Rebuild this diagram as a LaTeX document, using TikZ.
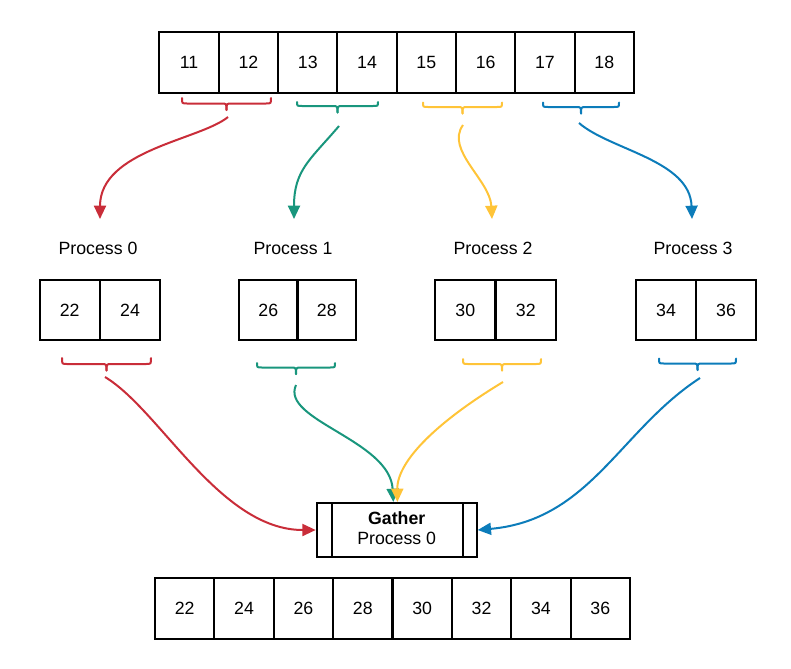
\documentclass[tikz,border=0pt]{standalone}
\usepackage{fontspec}
\setmainfont{Liberation Sans}
\usetikzlibrary{arrows.meta}
\definecolor{cred}{HTML}{C92D39}
\definecolor{cgreen}{HTML}{19967D}
\definecolor{cyellow}{HTML}{FFC438}
\definecolor{cblue}{HTML}{0C7CBA}
\newcommand{\mybrace}[5]{% color, x1, x2, ytop, ymid
  \pgfmathsetmacro{\bxc}{(#2+#3)/2}%
  \pgfmathsetmacro{\btip}{#5+6.5}%
  \draw[bracestyle,#1] (#2,#4) .. controls (#2,#5) .. (#2+5,#5) -- (\bxc-5,#5) .. controls (\bxc,#5) .. (\bxc,\btip);
  \draw[bracestyle,#1] (#3,#4) .. controls (#3,#5) .. (#3-5,#5) -- (\bxc+5,#5) .. controls (\bxc,#5) .. (\bxc,\btip);
}
\begin{document}
\begin{tikzpicture}[x=0.75pt,y=-0.75pt,
  font=\fontsize{13.3}{15}\selectfont,
  cell/.style={draw,line width=1.5pt,inner sep=0pt,minimum width=44.5pt,minimum height=45.75pt},
  pcell/.style={draw,line width=1.5pt,inner sep=0pt,minimum height=45pt},
  lbl/.style={inner sep=0pt},
  bracestyle/.style={line width=1.5pt,line cap=round},
  arr/.style={line width=1.5pt,-{Triangle[length=10pt,width=9pt]}}]
\useasboundingbox (0,0) rectangle (791,668);
% top array
\foreach \v [count=\i] in {11,12,13,14,15,16,17,18}{
  \node[cell] (t\i) at ({159.5+59.3*(\i-0.5)},62.5) {\v};
}
% top braces
\mybrace{cred}{182}{271}{98}{103.5}
\mybrace{cgreen}{297}{378}{102}{106}
\mybrace{cyellow}{423}{502}{102.5}{107}
\mybrace{cblue}{543}{619}{102.5}{107}
% arrow coordinates
\coordinate (rs) at (228,117);
\coordinate (gs) at (339,126);
\coordinate (ys) at (463,125);
\coordinate (bs) at (579,123);
\coordinate (p0in) at (100,219);
\coordinate (p1in) at (294,219);
\coordinate (p2in) at (492,219);
\coordinate (p3in) at (692,219);
\draw[arr,cred] (rs) .. controls (200,140) and (100,150) .. (p0in);
\draw[arr,cgreen] (gs) .. controls (310,160) and (294,170) .. (p1in);
\draw[arr,cyellow] (ys) .. controls (445,150) and (490,180) .. (p2in);
\draw[arr,cblue] (bs) .. controls (610,150) and (690,160) .. (p3in);
% process labels
\node[lbl] (l0) at (98,248) {Process 0};
\node[lbl] (l1) at (293,248) {Process 1};
\node[lbl] (l2) at (493,248) {Process 2};
\node[lbl] (l3) at (693,248) {Process 3};
% process boxes
\node[pcell,minimum width=45.26pt] (a1) at (69.7,310) {22};
\node[pcell,minimum width=45.26pt] (a2) at (130.0,310) {24};
\node[pcell,minimum width=43.9pt] (b1) at (268.25,310) {26};
\node[pcell,minimum width=43.9pt] (b2) at (326.75,310) {28};
\node[pcell,minimum width=45.4pt] (c1) at (465.25,310) {30};
\node[pcell,minimum width=45.4pt] (c2) at (525.75,310) {32};
\node[pcell,minimum width=45pt] (d1) at (666,310) {34};
\node[pcell,minimum width=45pt] (d2) at (726,310) {36};
% lower braces
\mybrace{cred}{62}{151}{358}{364}
\mybrace{cgreen}{257}{335}{363}{367.5}
\mybrace{cyellow}{463}{541}{359}{364}
\mybrace{cblue}{659}{736}{358.5}{363.5}
% gather
\node[draw,line width=1.5pt,minimum width=120pt,minimum height=40.5pt,inner sep=0pt] (g) at (396.7,530) {};
\node[lbl,align=center] (gt) at (396.7,528) {\textbf{Gather}\\Process 0};
\draw[line width=1.5pt] ([xshift=12.2pt]g.north west) -- ([xshift=12.2pt]g.south west);
\draw[line width=1.5pt] ([xshift=-11pt]g.north east) -- ([xshift=-11pt]g.south east);
\coordinate (rl) at (105,377);
\coordinate (gl) at (296,385);
\coordinate (yl) at (503,382);
\coordinate (bl) at (700,378);
\draw[arr,cred] (rl) .. controls (160,410) and (220,530) .. (g.west);
\draw[arr,cgreen] (gl) .. controls (280,420) and (390,440) .. ([xshift=-2.5pt]g.north);
\draw[arr,cyellow] (yl) .. controls (440,420) and (397,460) .. ([xshift=0.5pt]g.north);
\draw[arr,cblue] (bl) .. controls (620,430) and (590,520) .. (g.east);
% bottom array
\foreach \v [count=\i] in {22,24,26,28,30,32,34,36}{
  \node[cell] (r\i) at ({155+59.375*(\i-0.5)},608.5) {\v};
}
\end{tikzpicture}
\end{document}
